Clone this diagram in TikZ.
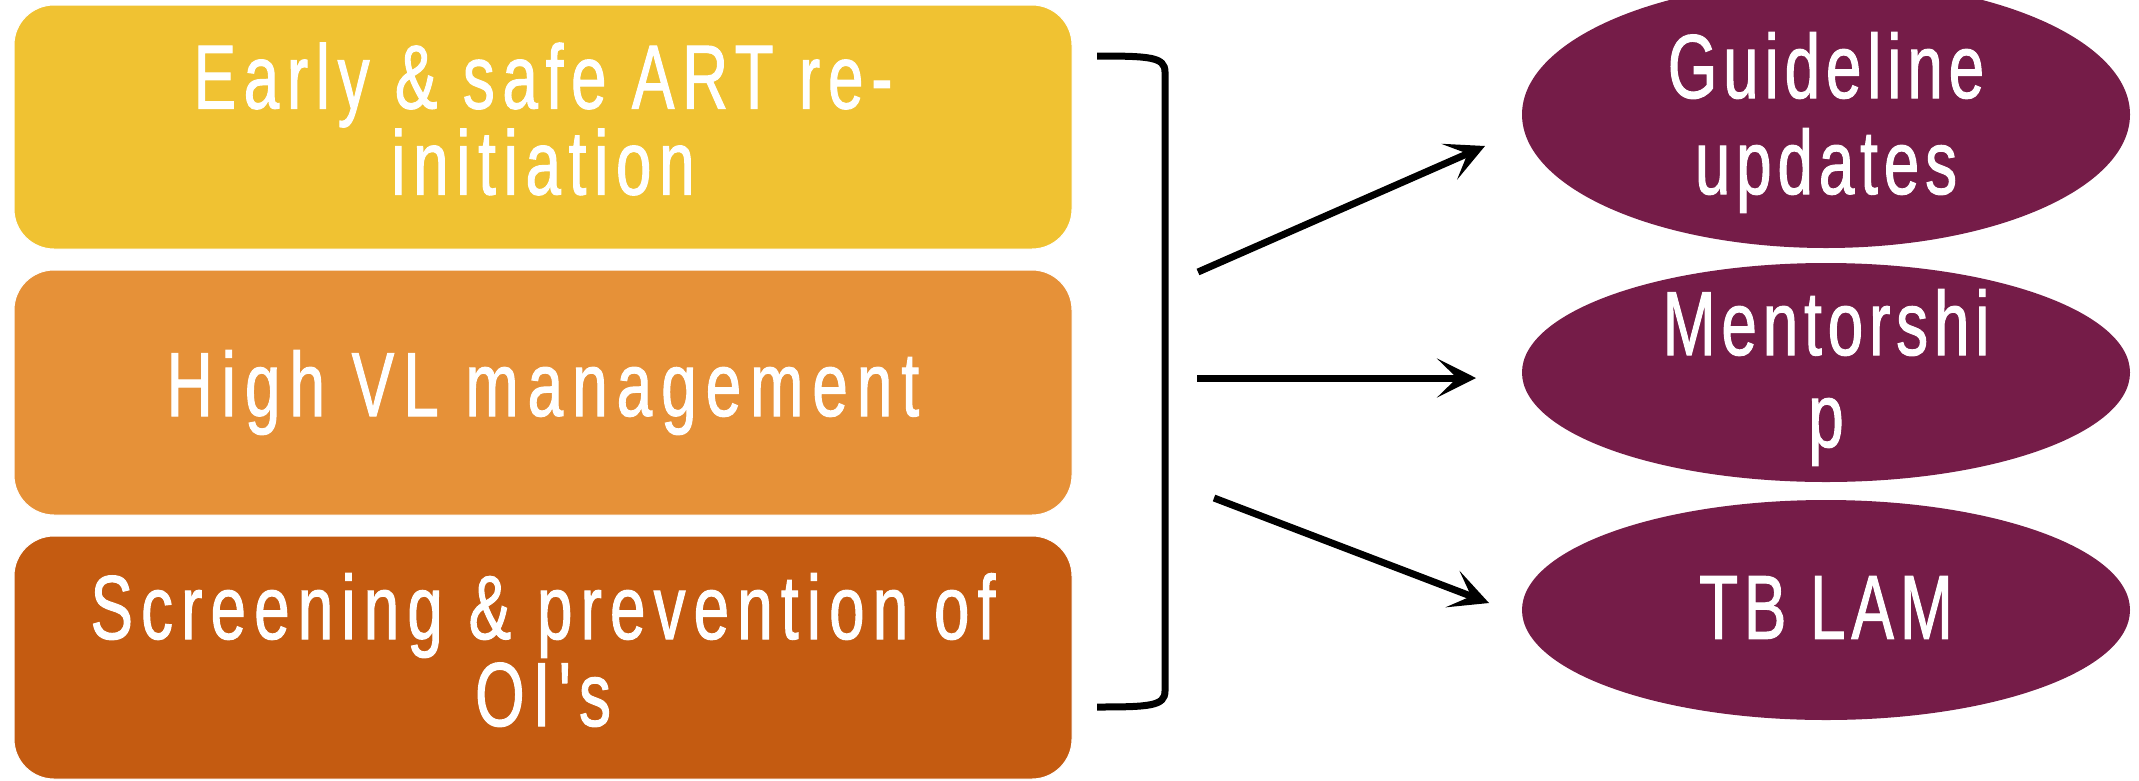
\documentclass[tikz,border=0pt]{standalone}
\usepackage{fontspec}
\usetikzlibrary{shapes.geometric,arrows.meta}
\newfontfamily\boxfontA{Liberation Sans}[FakeStretch=0.7,LetterSpace=8.5,FakeBold=1.1]
\newfontfamily\boxfontB{Liberation Sans}[FakeStretch=0.7,LetterSpace=10,FakeBold=1.1]
\newfontfamily\boxfontC{Liberation Sans}[FakeStretch=0.7,LetterSpace=9,FakeBold=1.1]
\newfontfamily\ovalfont{Liberation Sans}[FakeStretch=0.7,LetterSpace=6.5,FakeBold=1.1]
\definecolor{cYellow}{RGB}{240,194,50}
\definecolor{cOrange}{RGB}{230,145,56}
\definecolor{cRust}{RGB}{196,91,17}
\definecolor{cPlum}{RGB}{117,28,72}
\begin{document}
\begin{tikzpicture}[x=1pt,y=-1pt,
  boxnode/.style={rectangle,rounded corners=40pt,draw=white,line width=1pt,minimum width=1058pt,inner sep=0pt},
  ovalnode/.style={ellipse,fill=cPlum,draw=none,minimum width=608pt,inner sep=0pt},
  txt/.style={text=white,align=center,inner sep=0pt},
  conn/.style={line width=7pt,-{Stealth[length=39pt,width=39pt,inset=20pt]}},
  brace/.style={line width=7pt}
]
\path[use as bounding box] (0,0) rectangle (2139,780);
\clip (0,0) rectangle (2139,780);

% left boxes
\node[boxnode,fill=cYellow,minimum height=244pt] (b1) at (543,127) {};
\node[boxnode,fill=cOrange,minimum height=245pt] (b2) at (543,392.5) {};
\node[boxnode,fill=cRust,minimum height=243pt] (b3) at (543,657.5) {};
\node[txt,font=\boxfontA\fontsize{91}{86}\selectfont] (t1) at (543,119) {Early \& safe ART re-\\initiation};
\node[txt,font=\boxfontB\fontsize{91}{86}\selectfont] (t2) at (543,392.5) {High VL management};
\node[txt,font=\boxfontC\fontsize{91}{87}\selectfont] (t3) at (543,650) {Screening \& prevention of\\OI's};

% right ellipses
\node[ovalnode,minimum height=267pt] (e1) at (1826,114.5) {};
\node[ovalnode,minimum height=219pt] (e2) at (1826,372.5) {};
\node[ovalnode,minimum height=220pt] (e3) at (1826,610) {};
\node[txt,font=\ovalfont\fontsize{91}{96}\selectfont] (u1) at (1826,122.5) {Guideline\\updates};
\node[txt,font=\ovalfont\fontsize{91}{92}\selectfont] (u2) at (1826,377.5) {Mentorshi\\p};
\node[txt,font=\ovalfont\fontsize{91}{92}\selectfont] (u3) at (1826,607.5) {TB LAM};

% bracket
\coordinate (bt) at (1097,56);
\coordinate (bb) at (1097,707);
\draw[brace] (bt) .. controls (1150,56) and (1165,57) .. (1165,72) -- (1165,691) .. controls (1165,706) and (1150,707) .. (bb);

% arrows
\coordinate (a1s) at (1198,272);
\coordinate (a1e) at (1485,146);
\coordinate (a2s) at (1197,378);
\coordinate (a2e) at (1476,378);
\coordinate (a3s) at (1214,498);
\coordinate (a3e) at (1489,603);
\draw[conn] (a1s) -- (a1e);
\draw[conn] (a2s) -- (a2e);
\draw[conn] (a3s) -- (a3e);
\end{tikzpicture}
\end{document}
